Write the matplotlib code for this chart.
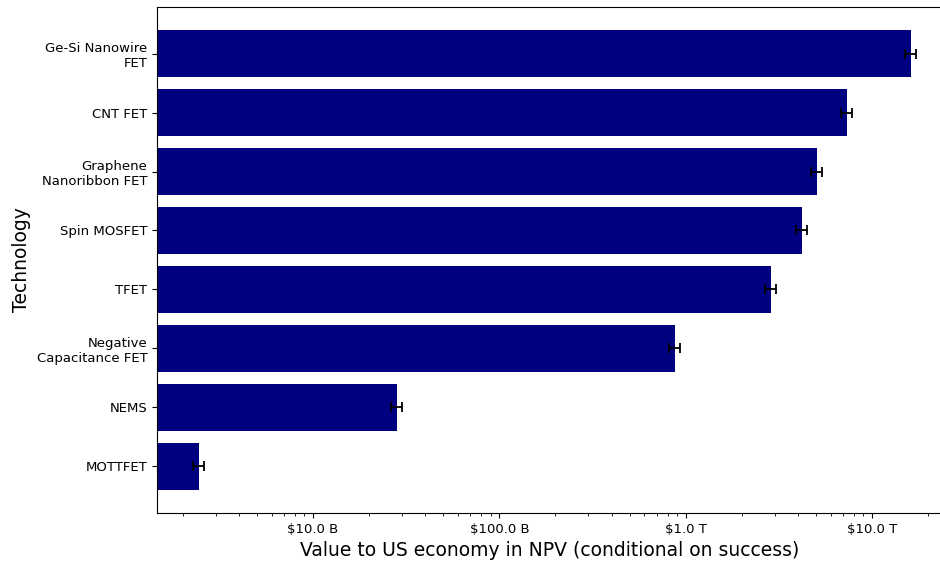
import numpy as np
import matplotlib
matplotlib.use('Agg')
import matplotlib.pyplot as plt
from matplotlib.ticker import FuncFormatter

# values (US dollars, NPV)
technologies = ['Ge-Si Nanowire\nFET', 'CNT FET', 'Graphene\nNanoribbon FET', 'Spin MOSFET',
                'TFET', 'Negative\nCapacitance FET', 'NEMS', 'MOTTFET']
values = [16.2e12, 7.35e12, 5.07e12, 4.2e12, 2.87e12, 8.77e11, 2.82e10, 2.44e9]
errors = [1.1e12, 0.5e12, 0.35e12, 0.3e12, 0.2e12, 0.6e11, 0.2e10, 0.17e9]


def dollars(x, pos):
    if x >= 1e12:
        return '$%.1f T' % (x / 1e12)
    return '$%.1f B' % (x / 1e9)


fig = plt.figure(figsize=(9.4, 5.61), dpi=100)
# right edge of the axes sits just past the image border, as in the cropped original
ax = fig.add_axes([0.167, 0.0856, 0.836, 0.902])

y = np.arange(len(technologies))
ax.barh(y, values, height=0.8, color='navy', xerr=errors,
        error_kw=dict(ecolor='black', capsize=3.5, elinewidth=1.3, capthick=1.3))
ax.set_xscale('log')
ax.set_xlim(1.454e9, 2.4e13)
ax.set_ylim(len(technologies) - 1 + 0.79, -0.79)
ax.set_yticks(y)
ax.set_yticklabels(technologies, fontsize=9.5)
ax.set_xticks([1e10, 1e11, 1e12, 1e13])
ax.xaxis.set_major_formatter(FuncFormatter(dollars))
ax.tick_params(axis='x', labelsize=9.5)
ax.set_xlabel('Value to US economy in NPV (conditional on success)', fontsize=13.5)
ax.set_ylabel('Technology', fontsize=13.5)

fig.savefig('out.png', dpi=100)
